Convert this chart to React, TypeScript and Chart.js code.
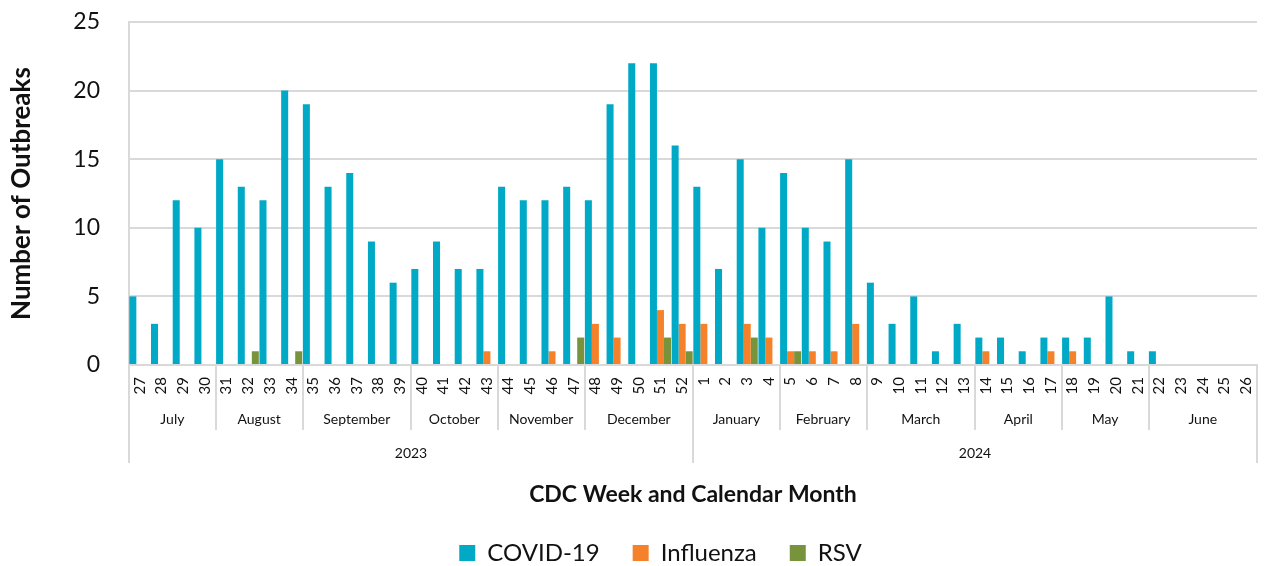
import React, { useEffect, useRef } from 'react';
import { Chart, registerables } from 'chart.js';

Chart.register(...registerables);

const weeks = [
  '27', '28', '29', '30', '31', '32', '33', '34', '35', '36', '37', '38', '39',
  '40', '41', '42', '43', '44', '45', '46', '47', '48', '49', '50', '51', '52',
  '1', '2', '3', '4', '5', '6', '7', '8', '9', '10', '11', '12', '13',
  '14', '15', '16', '17', '18', '19', '20', '21', '22', '23', '24', '25', '26',
];

const covid = [
  5, 3, 12, 10, 15, 13, 12, 20, 19, 13, 14, 9, 6,
  7, 9, 7, 7, 13, 12, 12, 13, 12, 19, 22, 22, 16,
  13, 7, 15, 10, 14, 10, 9, 15, 6, 3, 5, 1, 3,
  2, 2, 1, 2, 2, 2, 5, 1, 1, 0, 0, 0, 0,
];

const influenza = [
  0, 0, 0, 0, 0, 0, 0, 0, 0, 0, 0, 0, 0,
  0, 0, 0, 1, 0, 0, 1, 0, 3, 2, 0, 4, 3,
  3, 0, 3, 2, 1, 1, 1, 3, 0, 0, 0, 0, 0,
  1, 0, 0, 1, 1, 0, 0, 0, 0, 0, 0, 0, 0,
];

const rsv = [
  0, 0, 0, 0, 0, 1, 0, 1, 0, 0, 0, 0, 0,
  0, 0, 0, 0, 0, 0, 0, 2, 0, 0, 0, 2, 1,
  0, 0, 2, 0, 1, 0, 0, 0, 0, 0, 0, 0, 0,
  0, 0, 0, 0, 0, 0, 0, 0, 0, 0, 0, 0, 0,
];

const months = [
  'July', 'August', 'September', 'October', 'November', 'December',
  'January', 'February', 'March', 'April', 'May', 'June',
];
const monthWeekCounts = [4, 4, 5, 4, 4, 5, 4, 4, 5, 4, 4, 5];

const years = ['2023', '2024'];
const yearWeekCounts = [26, 26];

const FONT = "Lato, 'Liberation Sans', sans-serif";
const TEXT = '#111111';
const LINE = '#d9d9d9';

const groupRowsPlugin = {
  id: 'groupRows',
  afterDraw(chart: any) {
    const xs = chart.scales.x;
    const area = chart.chartArea;
    const ctx = chart.ctx;
    const half = (xs.getPixelForValue(1) - xs.getPixelForValue(0)) / 2;
    const edge = (i: number) => xs.getPixelForValue(i) - half;
    const monthY = area.bottom + 54;
    const monthEnd = area.bottom + 65;
    const yearY = area.bottom + 88;
    const yearEnd = area.bottom + 98;

    ctx.save();
    ctx.strokeStyle = LINE;
    ctx.lineWidth = 2;
    ctx.fillStyle = TEXT;
    ctx.textAlign = 'center';
    ctx.textBaseline = 'middle';

    const yearStarts: number[] = [];
    let acc = 0;
    yearWeekCounts.forEach((c) => { yearStarts.push(acc); acc += c; });
    const yearEdges = [...yearStarts, acc];

    ctx.font = `14px ${FONT}`;
    let idx = 0;
    months.forEach((m, k) => {
      const start = idx;
      const end = idx + monthWeekCounts[k];
      const x0 = edge(start);
      const x1 = edge(end);
      if (!yearEdges.includes(start)) {
        ctx.beginPath();
        ctx.moveTo(Math.round(x0), area.bottom);
        ctx.lineTo(Math.round(x0), monthEnd);
        ctx.stroke();
      }
      ctx.fillText(m, (x0 + x1) / 2, monthY);
      idx = end;
    });

    yearEdges.forEach((e) => {
      const xx = Math.round(edge(e));
      ctx.beginPath();
      ctx.moveTo(xx, area.bottom);
      ctx.lineTo(xx, yearEnd);
      ctx.stroke();
    });
    years.forEach((y, k) => {
      const x0 = edge(yearStarts[k]);
      const x1 = edge(yearStarts[k] + yearWeekCounts[k]);
      ctx.fillText(y, (x0 + x1) / 2, yearY);
    });
    ctx.restore();
  },
};

const legendShiftPlugin = {
  id: 'legendShift',
  afterLayout(chart: any) {
    if (chart.legend) {
      chart.legend.left += 32;
      chart.legend.right += 32;
    }
  },
};

export default function App() {
  const canvasRef = useRef<HTMLCanvasElement | null>(null);

  useEffect(() => {
    if (!canvasRef.current) return;
    const chart = new Chart(canvasRef.current, {
      type: 'bar',
      data: {
        labels: weeks,
        datasets: [
          { label: 'COVID-19', data: covid, backgroundColor: '#00A9C6', borderWidth: 0 },
          { label: 'Influenza', data: influenza, backgroundColor: '#F5812A', borderWidth: 0 },
          { label: 'RSV', data: rsv, backgroundColor: '#77933C', borderWidth: 0 },
        ],
      },
      options: {
        responsive: false,
        animation: false,
        layout: { padding: { left: 0, right: 8, top: 22, bottom: 0 } },
        datasets: { bar: { categoryPercentage: 0.97, barPercentage: 1 } },
        plugins: {
          tooltip: { enabled: false },
          legend: {
            position: 'bottom',
            maxHeight: 58,
            labels: {
              font: { family: FONT, size: 24 },
              color: TEXT,
              boxWidth: 16,
              boxHeight: 16,
              padding: 33,
            },
          },
        },
        scales: {
          x: {
            grid: { display: false, drawTicks: false },
            border: { display: true, color: LINE, width: 2 },
            ticks: {
              autoSkip: false,
              minRotation: 90,
              maxRotation: 90,
              padding: 12,
              color: TEXT,
              font: { family: FONT, size: 15 },
            },
            title: {
              display: true,
              text: 'CDC Week and Calendar Month',
              color: TEXT,
              font: { family: FONT, size: 23, weight: 'bold' },
              padding: { top: 0, bottom: 0 },
            },
            afterFit(scale: any) {
              scale.height = 143;
              scale.paddingLeft = 0;
              scale.paddingRight = 0;
            },
          },
          y: {
            min: 0,
            max: 25,
            ticks: {
              stepSize: 5,
              padding: 29,
              color: TEXT,
              font: { family: FONT, size: 23 },
            },
            grid: { color: LINE, lineWidth: 2, drawTicks: false },
            border: { display: true, color: LINE, width: 2 },
            title: {
              display: true,
              text: 'Number of Outbreaks',
              color: TEXT,
              font: { family: FONT, size: 26, weight: 'bold' },
              padding: { top: 6, bottom: 0 },
            },
            afterFit(scale: any) {
              scale.width = 129;
              scale.paddingTop = 0;
              scale.paddingBottom = 0;
            },
          },
        },
      },
      plugins: [groupRowsPlugin, legendShiftPlugin],
    } as any);
    return () => chart.destroy();
  }, []);

  return (
    <div style={{ position: 'fixed', left: 0, top: 0, width: 1265, height: 566, background: '#fff' }}>
      <canvas ref={canvasRef} width={1265} height={566} />
    </div>
  );
}
